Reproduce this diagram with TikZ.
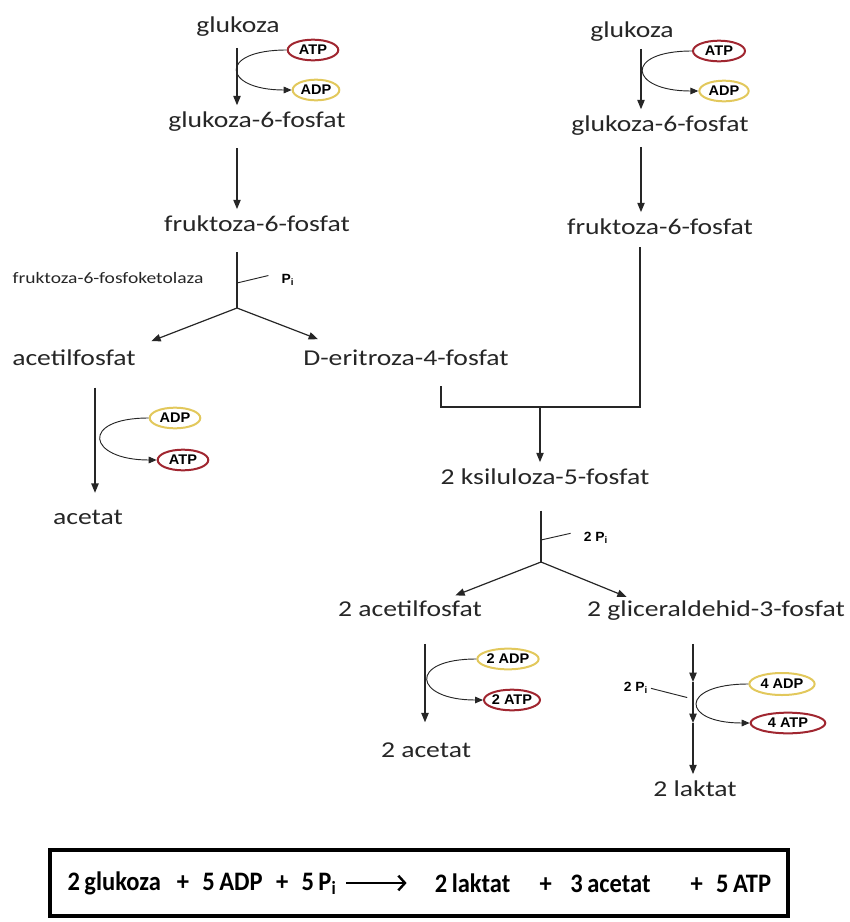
\documentclass[tikz,border=0pt]{standalone}
\usepackage{fontspec}
\setmainfont[FakeStretch=1.22]{Carlito}
\newfontfamily\cofactorfont[FakeStretch=1.04]{Liberation Sans}
\newfontfamily\sumfont[FakeStretch=0.92]{Carlito}
\usetikzlibrary{positioning,arrows.meta,shapes.geometric}
\definecolor{atpcolor}{RGB}{160,38,48}
\definecolor{adpcolor}{RGB}{226,200,92}
\definecolor{inkcolor}{RGB}{38,38,38}
\tikzset{
    metabolite/.style={inner xsep=2pt, inner ysep=5pt, text=inkcolor, font=\fontsize{17}{20}\selectfont},
    enzyme/.style={inner sep=1pt, text=inkcolor, font=\fontsize{12}{14}\selectfont},
    phosphate/.style={inner sep=1pt, text=black, font=\cofactorfont\bfseries\fontsize{10}{12}\selectfont},
    cofactor/.style={ellipse, draw, line width=1.5pt, inner xsep=-3pt, inner ysep=0pt, minimum width=38pt, minimum height=15.5pt, text=black, font=\cofactorfont\bfseries\fontsize{10.5}{12}\selectfont},
    atp/.style={cofactor, draw=atpcolor},
    adp/.style={cofactor, draw=adpcolor},
    reaction/.style={-{Triangle[length=7pt,width=5.5pt]}, line width=0.9pt, inkcolor},
    branch/.style={line width=0.9pt, inkcolor},
    tick/.style={line width=0.7pt, inkcolor, shorten >=9pt},
    coupling/.style={-{Triangle[length=6pt,width=5pt]}, line width=0.7pt, inkcolor},
    summary box/.style={draw, line width=3pt, minimum width=554pt, minimum height=50pt},
    summary text/.style={inner sep=1pt, text=black, font=\sumfont\bfseries\fontsize{20}{22}\selectfont},
    summary arrow/.style={-{Straight Barb[length=5pt,width=11pt]}, line width=1.8pt, black}
}

\begin{document}
\begin{tikzpicture}[x=0.75pt, y=-0.75pt]
    \useasboundingbox (0,0) rectangle (850,922);

    % Left pathway - glukoza to acetat
    \node[metabolite] (glukL) at (238,27) {glukoza};
    \node[atp] (atpL) at (313,50) {ATP};
    \node[adp, minimum width=35pt] (adpL) at (316,90) {ADP};
    \node[metabolite] (g6pL) at (257,122) {glukoza-6-fosfat};
    \node[metabolite] (f6pL) at (257,224) {fruktoza-6-fosfat};
    \node[enzyme] (ketolaza) at (108,278) {fruktoza-6-fosfoketolaza};
    \node[phosphate] (piL) at (288,280) {P\textsubscript{i}};
    \node[metabolite] (acetilL) at (74,358) {acetilfosfat};
    \node[metabolite] (eritroza) at (406,358) {D-eritroza-4-fosfat};
    \node[adp] (adpA) at (175,418) {ADP};
    \node[atp] (atpA) at (183,460) {ATP};
    \node[metabolite] (acetatL) at (88,517) {acetat};

    % Right pathway - glukoza to ksiluloza, laktat and acetat
    \node[metabolite] (glukR) at (632,32) {glukoza};
    \node[atp, minimum width=39pt] (atpR) at (719,51) {ATP};
    \node[adp, minimum width=37pt] (adpR) at (724,91) {ADP};
    \node[metabolite] (g6pR) at (660,126) {glukoza-6-fosfat};
    \node[metabolite] (f6pR) at (660,227) {fruktoza-6-fosfat};
    \node[metabolite] (ksiluloza) at (545,477) {2 ksiluloza-5-fosfat};
    \node[phosphate] (piR) at (596,538) {2 P\textsubscript{i}};
    \node[metabolite] (acetilR) at (410,609) {2 acetilfosfat};
    \node[metabolite] (gliceral) at (716,611) {2 gliceraldehid-3-fosfat};
    \node[adp, minimum width=46pt] (adpB) at (508,659) {2 ADP};
    \node[atp, minimum width=42pt] (atpB) at (512,700) {2 ATP};
    \node[metabolite] (acetatR) at (426,750) {2 acetat};
    \node[phosphate] (piC) at (636,688) {2 P\textsubscript{i}};
    \node[adp, minimum width=49pt, minimum height=16.5pt] (adpC) at (782,684) {4 ADP};
    \node[atp, minimum width=56pt] (atpC) at (788,723) {4 ATP};
    \node[metabolite] (laktat) at (695,789) {2 laktat};

    % Axes, branch points and merge points
    \coordinate (axisL) at (237,0);
    \coordinate (splitL) at (237,308);
    \coordinate (tickL) at (237,283);
    \coordinate (axisA) at (95,0);
    \coordinate (axisR) at (641,0);
    \coordinate (mergeR) at (640,407);
    \coordinate (mergeL) at (441,407);
    \coordinate (mergeC) at (540,407);
    \coordinate (splitR) at (541,562);
    \coordinate (tickR) at (541,540);
    \coordinate (axisB) at (425,0);
    \coordinate (glyA) at (693,682);
    \coordinate (glyB) at (693,723);
    \coordinate (tickC) at (693,699);

    % Left pathway arrows
    \draw[reaction, shorten <=3pt] (glukL.south -| axisL) -- (g6pL.north -| axisL);
    \draw[reaction, shorten <=7pt] (g6pL.south -| axisL) -- (f6pL.north -| axisL);
    \draw[branch, shorten <=10pt] (f6pL.south -| splitL) -- (splitL);
    \draw[tick] (tickL) -- (piL.north west);
    \draw[reaction] (splitL) -- ([xshift=58pt,yshift=1.5pt]acetilL.north);
    \draw[reaction] (splitL) -- ([xshift=-66pt,yshift=3pt]eritroza.north);
    \draw[reaction, shorten <=11pt, shorten >=7.5pt] (acetilL.south -| axisA) -- (acetatL.north -| axisA);

    % Right pathway arrows
    \draw[reaction] (glukR.south -| axisR) -- (g6pR.north -| axisR);
    \draw[reaction, shorten <=3pt] (g6pR.south -| axisR) -- (f6pR.north -| axisR);
    \draw[branch, shorten <=10pt, shorten >=4pt] (eritroza.south -| mergeL) -- (mergeL) -- (mergeR) -- (f6pR.south -| mergeR);
    \draw[reaction] (mergeC) -- (ksiluloza.north -| mergeC);
    \draw[branch, shorten <=14pt] (ksiluloza.south -| splitR) -- (splitR);
    \draw[tick] (tickR) -- (piR.north west);
    \draw[reaction] (splitR) -- ([xshift=34pt,yshift=-1pt]acetilR.north);
    \draw[reaction] (splitR) -- ([xshift=-67pt,yshift=-2pt]gliceral.north);
    \draw[reaction, shorten <=15pt, shorten >=10pt] (acetilR.south -| axisB) -- (acetatR.north -| axisB);
    \draw[reaction, shorten <=12pt] (gliceral.south -| glyA) -- (glyA);
    \draw[reaction] (glyA) -- (glyB);
    \draw[reaction] (glyB) -- (laktat.north -| glyB);
    \draw[tick, shorten <=4.5pt, shorten >=1pt] (tickC) -- (piC.east);

    % ATP/ADP coupling
    \foreach \from/\to in {atpL/adpL, atpR/adpR, adpA/atpA, adpB/atpB, adpC/atpC} {
        \draw[coupling] (\from.west) to[out=180, in=180, distance=52pt] (\to.west);
    }

    % Summary equation
    \node[summary box] (summary) at (419,883) {};
    \node[summary text] (lhs) at (202,883) {2\,glukoza\hspace{0.6em}+\hspace{0.5em}5\,ADP\hspace{0.5em}+\hspace{0.5em}5\,P\textsubscript{i}};
    \node[summary text] (rhs) at (603,883) {2\,laktat\hspace{1.1em}+\hspace{0.7em}3\,acetat\hspace{1.5em}+\hspace{0.5em}5\,ATP};
    \draw[summary arrow, shorten <=6pt, shorten >=20pt] (lhs) -- (rhs);
\end{tikzpicture}
\end{document}
